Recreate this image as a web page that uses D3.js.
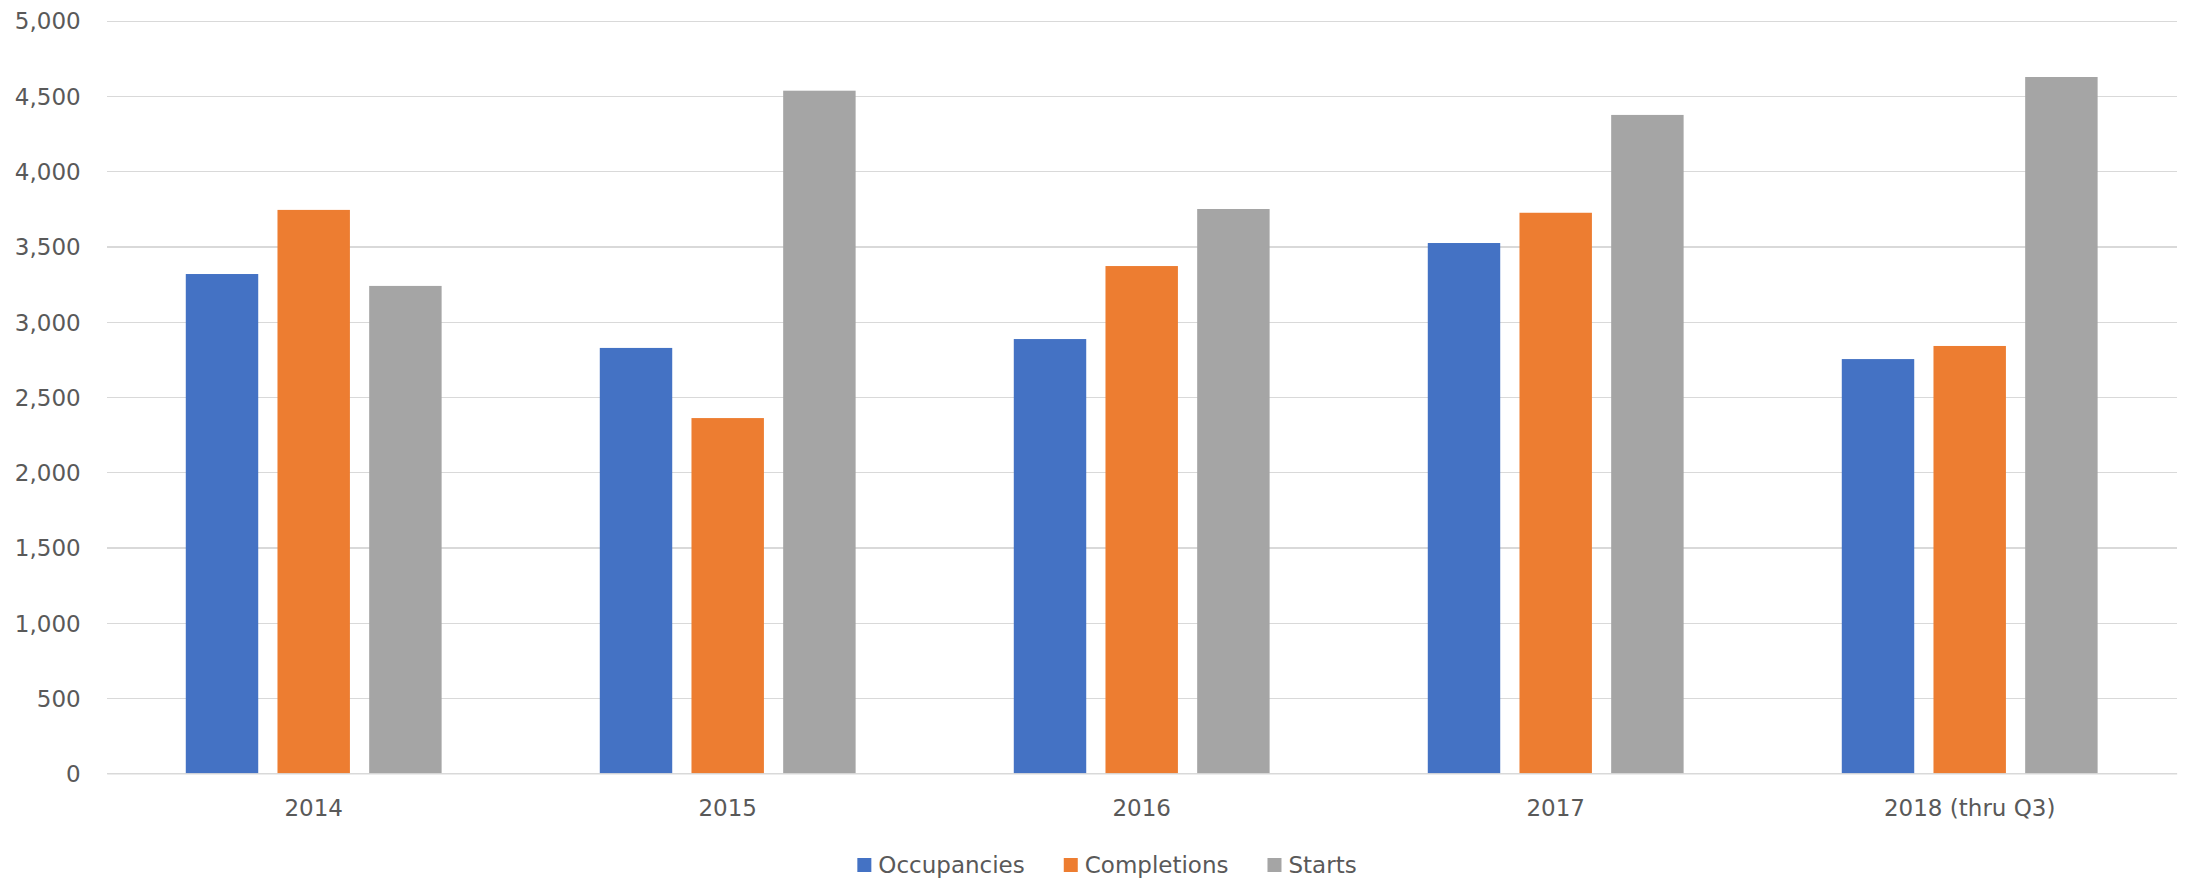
<!DOCTYPE html>
<html lang="en">
<head>
  <meta charset="UTF-8">
  <title>Occupancies, Completions, Starts</title>
  <script src="https://cdn.jsdelivr.net/npm/d3@7/dist/d3.min.js"></script>
  <style>
    html, body {
      margin: 0;
      padding: 0;
      background: #fff;
    }
    svg text {
      font-family: "DejaVu Sans", Verdana, sans-serif;
      font-size: 23px;
      fill: #595959;
    }
    .grid line {
      stroke: #d9d9d9;
      stroke-width: 1.3;
      shape-rendering: crispEdges;
    }
  </style>
</head>
<body>
<svg width="2188" height="881"></svg>

<script>
  const categories = ["2014", "2015", "2016", "2017", "2018 (thru Q3)"];
  const seriesNames = ["Occupancies", "Completions", "Starts"];
  const occupancies = [3317, 2826, 2885, 3523, 2752];
  const completions = [3743, 2360, 3370, 3724, 2839];
  const starts = [3238, 4535, 3749, 4374, 4626];
  const yTicks = [0, 500, 1000, 1500, 2000, 2500, 3000, 3500, 4000, 4500, 5000];
  const colors = ["#4472C4", "#ED7D31", "#A5A5A5"];

  const seriesValues = [occupancies, completions, starts];

  const svg = d3.select("svg");
  const margin = { top: 20.7, right: 11.3, bottom: 107.7, left: 106.7 };
  const width = +svg.attr("width") - margin.left - margin.right;
  const height = +svg.attr("height") - margin.top - margin.bottom;

  const g = svg.append("g")
    .attr("transform", `translate(${margin.left},${margin.top})`);

  // one band per year, no padding (Excel style)
  const x0 = d3.scaleBand()
    .domain(categories)
    .range([0, width])
    .paddingInner(0)
    .paddingOuter(0);

  // bars inside each band
  const x1 = d3.scaleBand()
    .domain(seriesNames)
    .range([0, x0.bandwidth()])
    .paddingInner(0.21)
    .paddingOuter(0.8625);

  const y = d3.scaleLinear()
    .domain([0, 5000])
    .range([height, 0]);

  // gridlines + y labels
  const yAxis = g.append("g")
    .attr("class", "grid")
    .call(d3.axisLeft(y)
      .tickValues(yTicks)
      .tickSize(-width)
      .tickPadding(26)
      .tickFormat(d3.format(",")));
  yAxis.select(".domain").remove();
  yAxis.selectAll("text").attr("dy", "0.36em");

  // bars
  const groups = g.selectAll("g.year")
    .data(categories)
    .join("g")
    .attr("class", "year")
    .attr("transform", d => `translate(${x0(d)},0)`);

  groups.selectAll("rect")
    .data((d, i) => seriesNames.map((s, k) => ({ s: s, k: k, v: seriesValues[k][i] })))
    .join("rect")
    .attr("x", d => x1(d.s))
    .attr("y", d => y(d.v))
    .attr("width", x1.bandwidth())
    .attr("height", d => height - y(d.v))
    .attr("fill", d => colors[d.k]);

  // x axis (category labels)
  const xAxis = g.append("g")
    .attr("transform", `translate(0,${height})`)
    .call(d3.axisBottom(x0).tickSize(0).tickPadding(26));
  xAxis.select(".domain")
    .attr("stroke", "#d9d9d9")
    .attr("stroke-width", 1.3);
  xAxis.selectAll("text").attr("dy", "0.71em");

  // legend, centred under the chart
  const legend = svg.append("g");
  const items = legend.selectAll("g")
    .data(seriesNames)
    .join("g");
  items.append("rect")
    .attr("width", 14)
    .attr("height", 14)
    .attr("y", -7)
    .attr("fill", (d, i) => colors[i]);
  items.append("text")
    .attr("x", 21)
    .attr("dy", "0.36em")
    .text(d => d);

  let offset = 0;
  items.each(function () {
    const w = this.getBBox().width;
    d3.select(this).attr("transform", `translate(${offset},0)`);
    offset += w + 39;
  });
  const legendWidth = offset - 39;
  legend.attr("transform", `translate(${1107 - legendWidth / 2},865)`);
</script>

</body>
</html>
